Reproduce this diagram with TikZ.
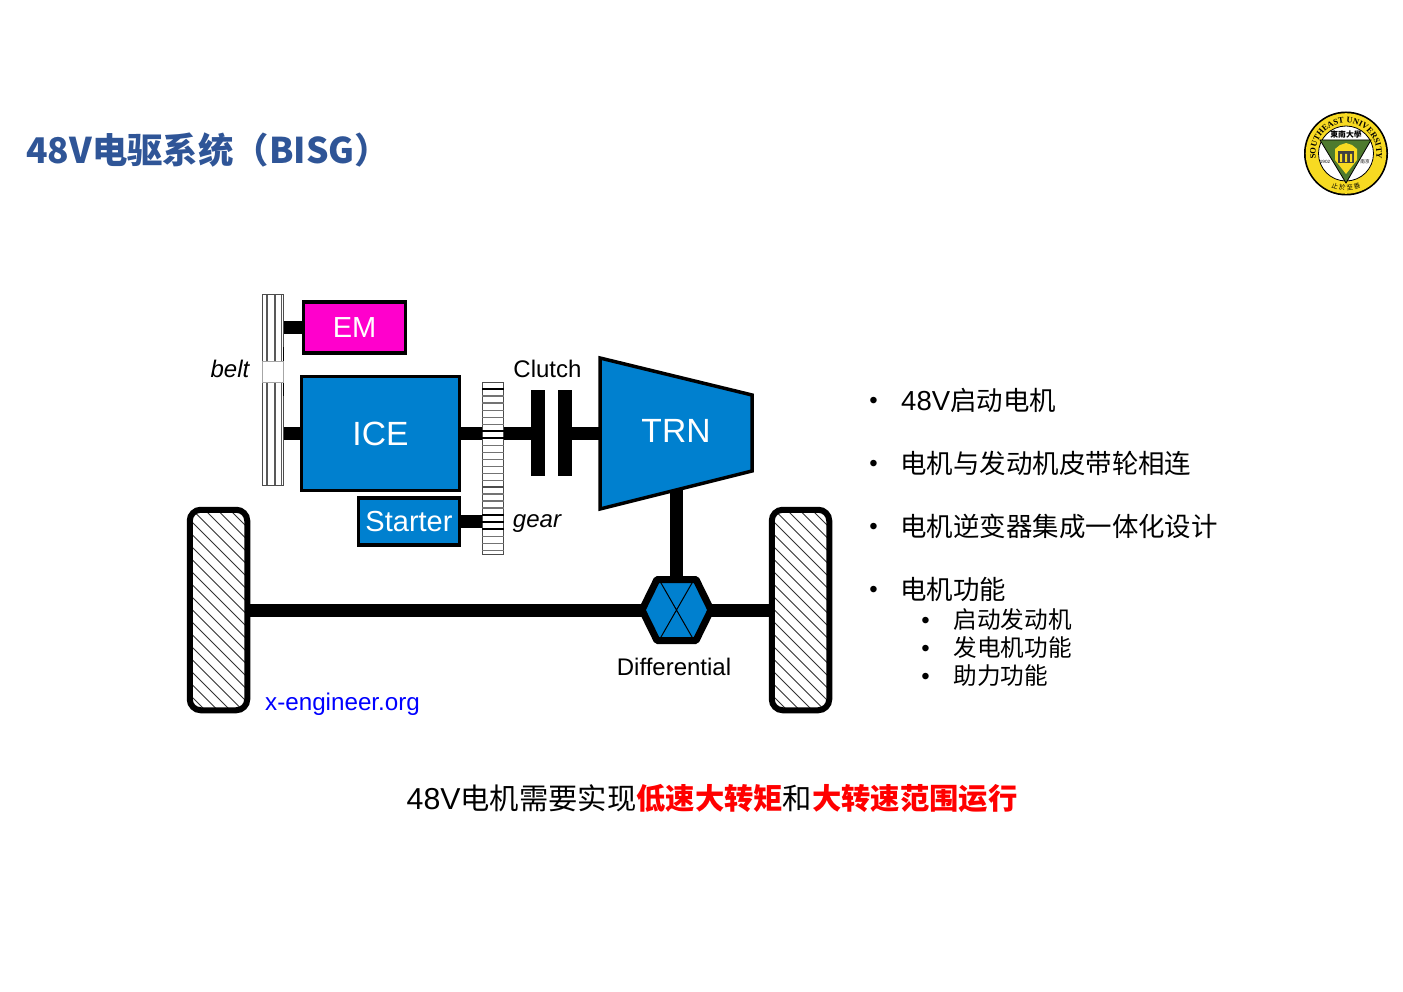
\documentclass[tikz,border=0pt]{standalone}
\usepackage{fontspec}
\setmainfont{Liberation Sans}
\newfontfamily\cjk{Noto Sans CJK SC}
\newfontfamily\cjktc{Noto Sans CJK TC}
\newfontfamily\logoserif{Liberation Serif}
\usetikzlibrary{decorations.text,calc}
\definecolor{boxblue}{HTML}{0080CF}
\definecolor{titleblue}{HTML}{2F5597}
\definecolor{emmag}{HTML}{FF00CC}
\definecolor{logogreen}{HTML}{4E7A2E}
\definecolor{logoyellow}{HTML}{F7DA22}
\newcommand{\fs}[1]{\fontsize{#1}{#1}\selectfont}
\tikzset{
  lab/.style={inner sep=0pt,font=\fs{24}},
  ilab/.style={inner sep=0pt,font=\fs{24}\itshape},
  blockbox/.style={draw=black,line width=3.5pt,fill=boxblue,text=white,inner sep=0pt,anchor=center},
  shaft/.style={line width=13pt,draw=black},
  plate/.style={fill=black,draw=none,inner sep=0pt,minimum width=14pt,minimum height=86pt},
  wheel/.style={draw=black,line width=6pt,fill=white,rounded corners=11pt,inner sep=0pt,
    minimum width=57.5pt,minimum height=200.5pt,
    path picture={\foreach \i in {-235,-222.5,...,70}{
      \draw[line width=.9pt,black!80] ([xshift=\i pt]path picture bounding box.north west) -- ++(260,260);}}},
  geargrp/.style={draw=black!70,fill=white,line width=1pt,inner sep=0pt,minimum width=21.5pt},
  bul/.style={inner sep=0pt,anchor=west,font=\fs{26.45}},
  sbul/.style={inner sep=0pt,anchor=west,font=\fs{23.6}},
  dot/.style={inner sep=0pt,font=\fs{24}},
}
\begin{document}
\begin{tikzpicture}[x=1pt,y=-1pt]
\useasboundingbox (0,0) rectangle (1403,992);
% title
\node[inner sep=0pt,anchor=west,text=titleblue,font=\cjk\bfseries\fs{35.4}] (title) at (26,150) {48V电驱系统（BISG）};

% logo
\fill[black] (1346,153.5) circle (42);
\fill[logoyellow] (1346,153.5) circle (40.3);
\fill[white] (1346,153.5) circle (27.5);
\draw[black,line width=.8pt] (1346,153.5) circle (27.5);
\fill[logogreen,draw=black,line width=.8pt] (1320,140) -- (1371,140) -- (1346,183) -- cycle;
\fill[logoyellow] (1335,149) -- (1340,145) -- (1346,143) -- (1352,145) -- (1357,149) -- (1357,160) -- (1346,174) -- (1335,160) -- cycle;
\fill[black!75] (1338,151) rectangle (1354,163);
\fill[logoyellow] (1340,154) rectangle (1342,162) (1345,154) rectangle (1347,162) (1350,154) rectangle (1352,162);
\node[inner sep=0pt,font=\cjktc\bfseries\fs{7.8}] (logocn) at (1346,134.5) {東南大學};
\node[inner sep=0pt,font=\fs{4.6}] (logoyear) at (1325,162) {1902};
\node[inner sep=0pt,font=\cjktc\fs{4.6}] (logocity) at (1365,162) {南京};
\begin{scope}[shift={(1346,153.5)},x=1pt,y=1pt]
\path[postaction={decorate},decoration={text along path,
  text={|\logoserif\bfseries\fs{8.4}|SOUTHEAST UNIVERSITY},text align=center}]
  (198:30.5) arc[start angle=198,end angle=-18,radius=30.5];
\path[postaction={decorate},decoration={text along path,
  text={|\cjktc\fs{6.5}|止 於 至 善},text align=center}]
  (232:37) arc[start angle=232,end angle=308,radius=37];
\end{scope}

% pulley
\node[geargrp,minimum height=190pt] (pulley) at (273,390) {};
\foreach \x in {267,275,281.5}
  \draw[black!65,line width=1.3pt] (\x,295) -- (\x,485);
\draw[black!70,line width=1.6pt] (283.5,295) -- (283.5,485);
\draw[black,line width=1.6pt] (283.5,347) -- (283.5,361) (283.5,382) -- (283.5,396);
\node[draw=black!35,fill=white,line width=.8pt,inner sep=0pt,minimum width=21.5pt,minimum height=21pt] (beltgap) at (273,371.5) {};
% gears
\node[geargrp,minimum height=104pt] (gearA) at (493,434) {};
\foreach \i in {0,...,14}
  \draw[black!55,line width=1.3pt] (482,{389+\i*7.05}) -- (504,{389+\i*7.05});
\node[geargrp,minimum height=67pt] (gearB) at (493,520.5) {};
\foreach \i in {0,...,8}
  \draw[black!55,line width=1.3pt] (482,{494+\i*7.05}) -- (504,{494+\i*7.05});

% boxes
\node[blockbox,fill=emmag,minimum width=102pt,minimum height=51pt,font=\fs{29}] (em) at (354.5,327.5) {EM};
\node[blockbox,minimum width=158pt,minimum height=114pt,font=\fs{33.6}] (ice) at (380.5,433.5) {ICE};
\node[blockbox,minimum width=101pt,minimum height=47pt,font=\fs{29}] (starter) at (409,521.5) {Starter};

% clutch
\node[plate] (plateA) at (538,433) {};
\node[plate] (plateB) at (565,433) {};

% shafts
\draw[shaft] (em.west) -- (em.west -| pulley.east);
\draw[shaft] (ice.west) -- (ice.west -| pulley.east);
\draw[shaft] (ice.east) -- (ice.east -| gearA.west);
\draw[shaft] (starter.east) -- (starter.east -| gearB.west);
\draw[shaft] (gearA.east |- plateA.center) -- (plateA.center);
\draw[shaft] (plateB.center) -- (600,433);
% darker teeth of the gears
\draw[black,line width=1.3pt] (482,389) -- (504,389) (482,431) -- (504,431) (482,438) -- (504,438)
  (482,515) -- (504,515) (482,522) -- (504,522) (482,529) -- (504,529);

% TRN
\coordinate (trntop) at (676.5,490);
\draw[black,line width=3.5pt,line join=miter,fill=boxblue] (600,358) -- (752,395) -- (752,471) -- (600,509) -- cycle;
\node[inner sep=0pt,text=white,font=\fs{33.6}] (trn) at (676,431) {TRN};

% wheels
\node[wheel] (wheelL) at (218.5,610) {};
\node[wheel] (wheelR) at (800.5,610) {};

% differential
\coordinate (diffN) at (676.5,578);
\coordinate (diffW) at (642,610);
\coordinate (diffE) at (711,610);
\draw[shaft] (trntop) -- (diffN);
\draw[shaft] (wheelL.east) -- (diffW);
\draw[shaft] (diffE) -- (wheelR.west);
\fill[boxblue] (657,579.5) -- (696,579.5) -- (711,610) -- (696,640.5) -- (657,640.5) -- (642,610) -- cycle;
\draw[black,line width=1pt] (659,579.5) -- (694,640.5) (694,579.5) -- (659,640.5);
\draw[black,line width=7pt,line join=round] (657,579.5) -- (696,579.5) -- (711,610) -- (696,640.5) -- (657,640.5) -- (642,610) -- cycle;

% labels
\node[ilab] (belt) at (230,369) {belt};
\node[ilab] (gear) at (537,523.5) {gear};
\node[lab] (clutch) at (547.5,369) {Clutch};
\node[lab] (diff) at (674,667) {Differential};
\node[lab,text=blue,anchor=west,font=\fs{24.2}] (xeng) at (265,704.5) {x-engineer.org};

% bullets
\foreach \y/\n in {403/a,466/b,529/c,592/d} \node[dot] (d\n) at (873.5,\y) {•};
\foreach \y/\n in {622.5/e,650.5/f,678.5/g} \node[dot] (d\n) at (925.5,\y) {•};
\node[bul] (ba) at (901,400) {{\fs{27.5}48V}{\cjk 启动电机}};
\node[bul] (bb) at (900.2,463) {\cjk 电机与发动机皮带轮相连};
\node[bul] (bc) at (900.2,526) {\cjk 电机逆变器集成一体化设计};
\node[bul] (bd) at (900.2,589) {\cjk 电机功能};
\node[sbul] (be) at (953.5,620) {\cjk 启动发动机};
\node[sbul] (bf) at (953.5,648) {\cjk 发电机功能};
\node[sbul] (bg) at (953.5,676) {\cjk 助力功能};

% bottom line
\node[inner sep=0pt,anchor=west,font=\fs{29.3}] (bottom) at (406.5,798.5)
  {{\fs{30.3}48V}{\cjk 电机需要实现}{\cjk\bfseries\color{red}低速大转矩}{\cjk 和}{\cjk\bfseries\color{red}大转速范围运行}};
\end{tikzpicture}
\end{document}
